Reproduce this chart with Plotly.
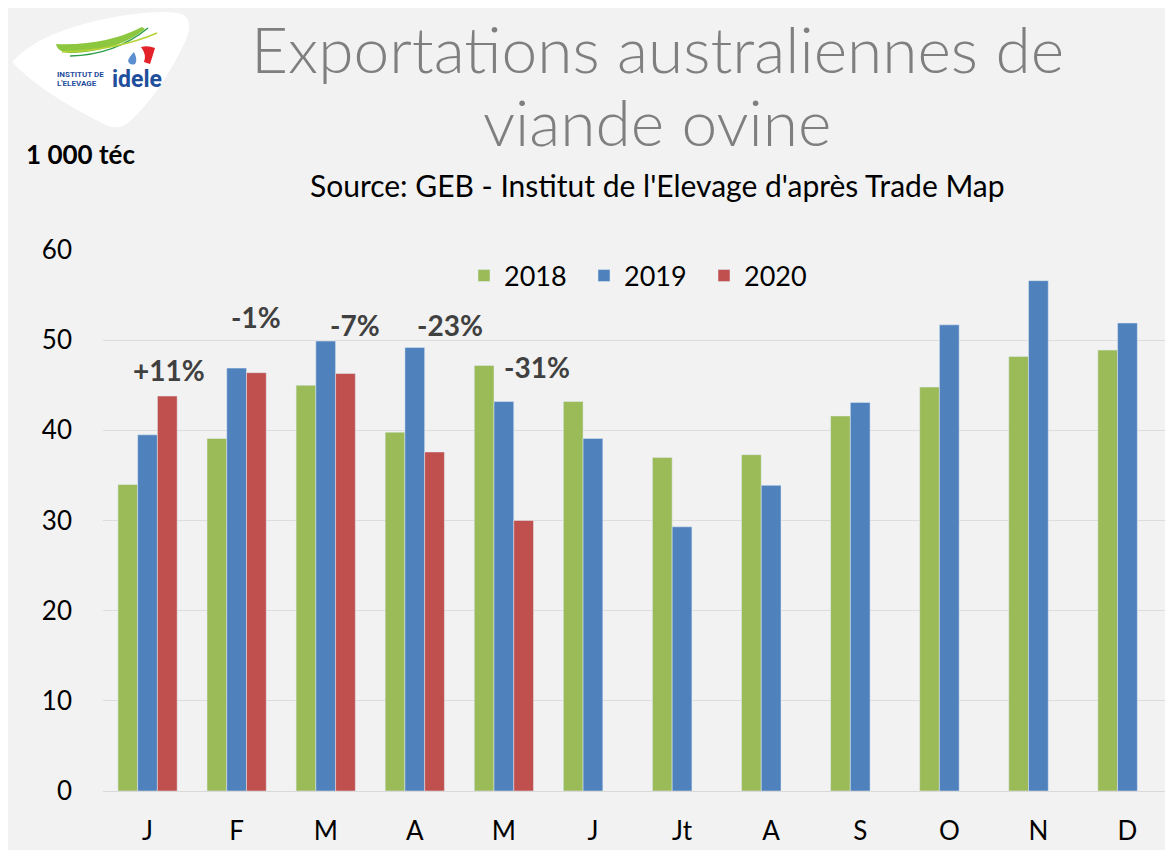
import plotly.graph_objects as go

# ---------------- data ----------------
months = ["J", "F", "M", "A", "M", "J", "Jt", "A", "S", "O", "N", "D"]
y2018 = [34.0, 39.1, 45.0, 39.8, 47.2, 43.2, 37.0, 37.3, 41.6, 44.8, 48.2, 48.9]
y2019 = [39.5, 46.9, 49.9, 49.2, 43.2, 39.1, 29.3, 33.9, 43.1, 51.7, 56.6, 51.9]
y2020 = [43.8, 46.4, 46.3, 37.6, 30.0]
var_labels = ["+11%", "-1%", "-7%", "-23%", "-31%"]
y_ticks = [0, 10, 20, 30, 40, 50, 60]

# label placement (style)
var_x = [0.24, 1.22, 2.33, 3.39, 4.37]
var_y = [46.7, 52.6, 51.7, 51.7, 47.0]

# ---------------- geometry ----------------
OFF = 8
W, H = 1173 - OFF, 850 - OFF
ML, MR, MT, MB = 103 - OFF, 1, 250 - OFF, 850 - 791
PW = W - ML - MR
PH = H - MT - MB


def px(X):
    return (X - OFF - ML) / PW


def py(Y):
    return (H - MB - (Y - OFF)) / PH


def pt(X, Y):
    return f"{px(X):.5f},{py(Y):.5f}"


FONT = "Lato"
xs = list(range(len(months)))

fig = go.Figure()
fig.add_trace(go.Bar(x=xs, y=y2018, name="2018", marker_color="#9BBB59"))
fig.add_trace(go.Bar(x=xs, y=y2019, name="2019", marker_color="#4F81BD"))
fig.add_trace(go.Bar(x=xs[:len(y2020)], y=y2020, name="2020", marker_color="#C0504D"))

annotations = []
for lab, xv, yv in zip(var_labels, var_x, var_y):
    annotations.append(dict(x=xv, y=yv, xref="x", yref="y", text=lab, showarrow=False,
                            font=dict(family=FONT, size=28, color="#404040", weight="bold"),
                            xanchor="center", yanchor="middle"))

# titles
annotations += [
    dict(x=px(657), y=py(8.5), xref="paper", yref="paper", text="Exportations australiennes de",
         showarrow=False, xanchor="center", yanchor="top", borderpad=0,
         font=dict(family=FONT, size=64, color="#7F7F7F", weight=300)),
    dict(x=px(657), y=py(122), xref="paper", yref="paper", text="viande ovine",
         showarrow=False, xanchor="center", yanchor="middle",
         font=dict(family=FONT, size=64, color="#7F7F7F", weight=300)),
    dict(x=px(657), y=py(185), xref="paper", yref="paper",
         text="Source: GEB - Institut de l'Elevage d'après Trade Map",
         showarrow=False, xanchor="center", yanchor="middle",
         font=dict(family=FONT, size=30, color="#000000")),
    dict(x=px(24), y=py(154), xref="paper", yref="paper", text="1 000 téc",
         showarrow=False, xanchor="left", yanchor="middle",
         font=dict(family=FONT, size=26, color="#000000", weight="bold")),
    # logo texts
    dict(x=px(55), y=py(75), xref="paper", yref="paper", text="INSTITUT DE",
         showarrow=False, xanchor="left", yanchor="middle",
         font=dict(family="Roboto", size=8, color="#1F4E9C", weight="bold")),
    dict(x=px(55), y=py(83), xref="paper", yref="paper", text="L'ELEVAGE",
         showarrow=False, xanchor="left", yanchor="middle",
         font=dict(family="Roboto", size=8, color="#1F4E9C", weight="bold")),
    dict(x=px(110), y=py(79), xref="paper", yref="paper", text="idele",
         showarrow=False, xanchor="left", yanchor="middle",
         font=dict(family="Roboto", size=23, color="#1F4E9C", weight="bold")),
]

shapes = [
    # logo white blob
    dict(type="path", xref="paper", yref="paper", layer="above",
         path=(f"M {pt(12,62)} Q {pt(40,30)} {pt(120,16)} Q {pt(165,9)} {pt(182,14)} "
               f"Q {pt(194,20)} {pt(186,40)} Q {pt(160,95)} {pt(128,123)} "
               f"Q {pt(116,132)} {pt(100,122)} Q {pt(40,92)} {pt(12,62)} Z"),
         fillcolor="#FFFFFF", line=dict(width=0)),
    # green swoosh band
    dict(type="path", xref="paper", yref="paper", layer="above",
         path=(f"M {pt(56,44)} Q {pt(58,54)} {pt(75,53)} Q {pt(120,50)} {pt(145,29)} "
               f"L {pt(142,27)} Q {pt(105,46)} {pt(56,44)} Z"),
         fillcolor="#8DC63F", line=dict(width=0)),
    # darker green line
    dict(type="path", xref="paper", yref="paper", layer="above",
         path=f"M {pt(70,56)} Q {pt(115,55)} {pt(148,28)}",
         line=dict(color="#2E9E48", width=1.5)),
    # yellow-green thin line
    dict(type="path", xref="paper", yref="paper", layer="above",
         path=f"M {pt(62,52)} Q {pt(118,50)} {pt(157,33)}",
         line=dict(color="#B5D334", width=1.5)),
    # red flag
    dict(type="path", xref="paper", yref="paper", layer="above",
         path=(f"M {pt(141,47)} Q {pt(148,45)} {pt(155,48)} Q {pt(152,58)} {pt(150,64)} "
               f"L {pt(144,62)} Q {pt(147,55)} {pt(141,47)} Z"),
         fillcolor="#E3222A", line=dict(width=0)),
    # blue drop
    dict(type="path", xref="paper", yref="paper", layer="above",
         path=(f"M {pt(134,52)} Q {pt(138,60)} {pt(135,64)} Q {pt(130,66)} {pt(128,61)} "
               f"Q {pt(129,57)} {pt(134,52)} Z"),
         fillcolor="#5B8FD0", line=dict(width=0)),
]

fig.update_layout(
    width=W, height=H,
    margin=dict(l=ML, r=MR, t=MT, b=MB, pad=0, autoexpand=False),
    paper_bgcolor="#F2F2F2", plot_bgcolor="#F2F2F2",
    barmode="group", bargap=0.335, bargroupgap=0,
    font=dict(family=FONT, color="#000000"),
    legend=dict(orientation="h", x=px(464), y=py(276), xanchor="left", yanchor="middle",
                bgcolor="rgba(0,0,0,0)", font=dict(family=FONT, size=27, color="#000000"),
                entrywidth=75, entrywidthmode="pixels", itemwidth=30),
    annotations=annotations,
    shapes=shapes,
    xaxis=dict(range=[-0.5, len(months) - 0.5], tickvals=xs, ticktext=months,
               showgrid=False, showline=True, linecolor="#D9D9D9", linewidth=1,
               ticks="", tickfont=dict(family=FONT, size=26, color="#000000"),
               ticklabelstandoff=17, zeroline=False, automargin=False),
    yaxis=dict(range=[0, 60], tickvals=y_ticks, showgrid=True, gridcolor="#DDDDDD",
               gridwidth=1, zeroline=False, showline=False, ticks="",
               tickfont=dict(family=FONT, size=26, color="#000000"),
               ticklabelstandoff=30, automargin=False),
)

fig.write_html("out.html")
